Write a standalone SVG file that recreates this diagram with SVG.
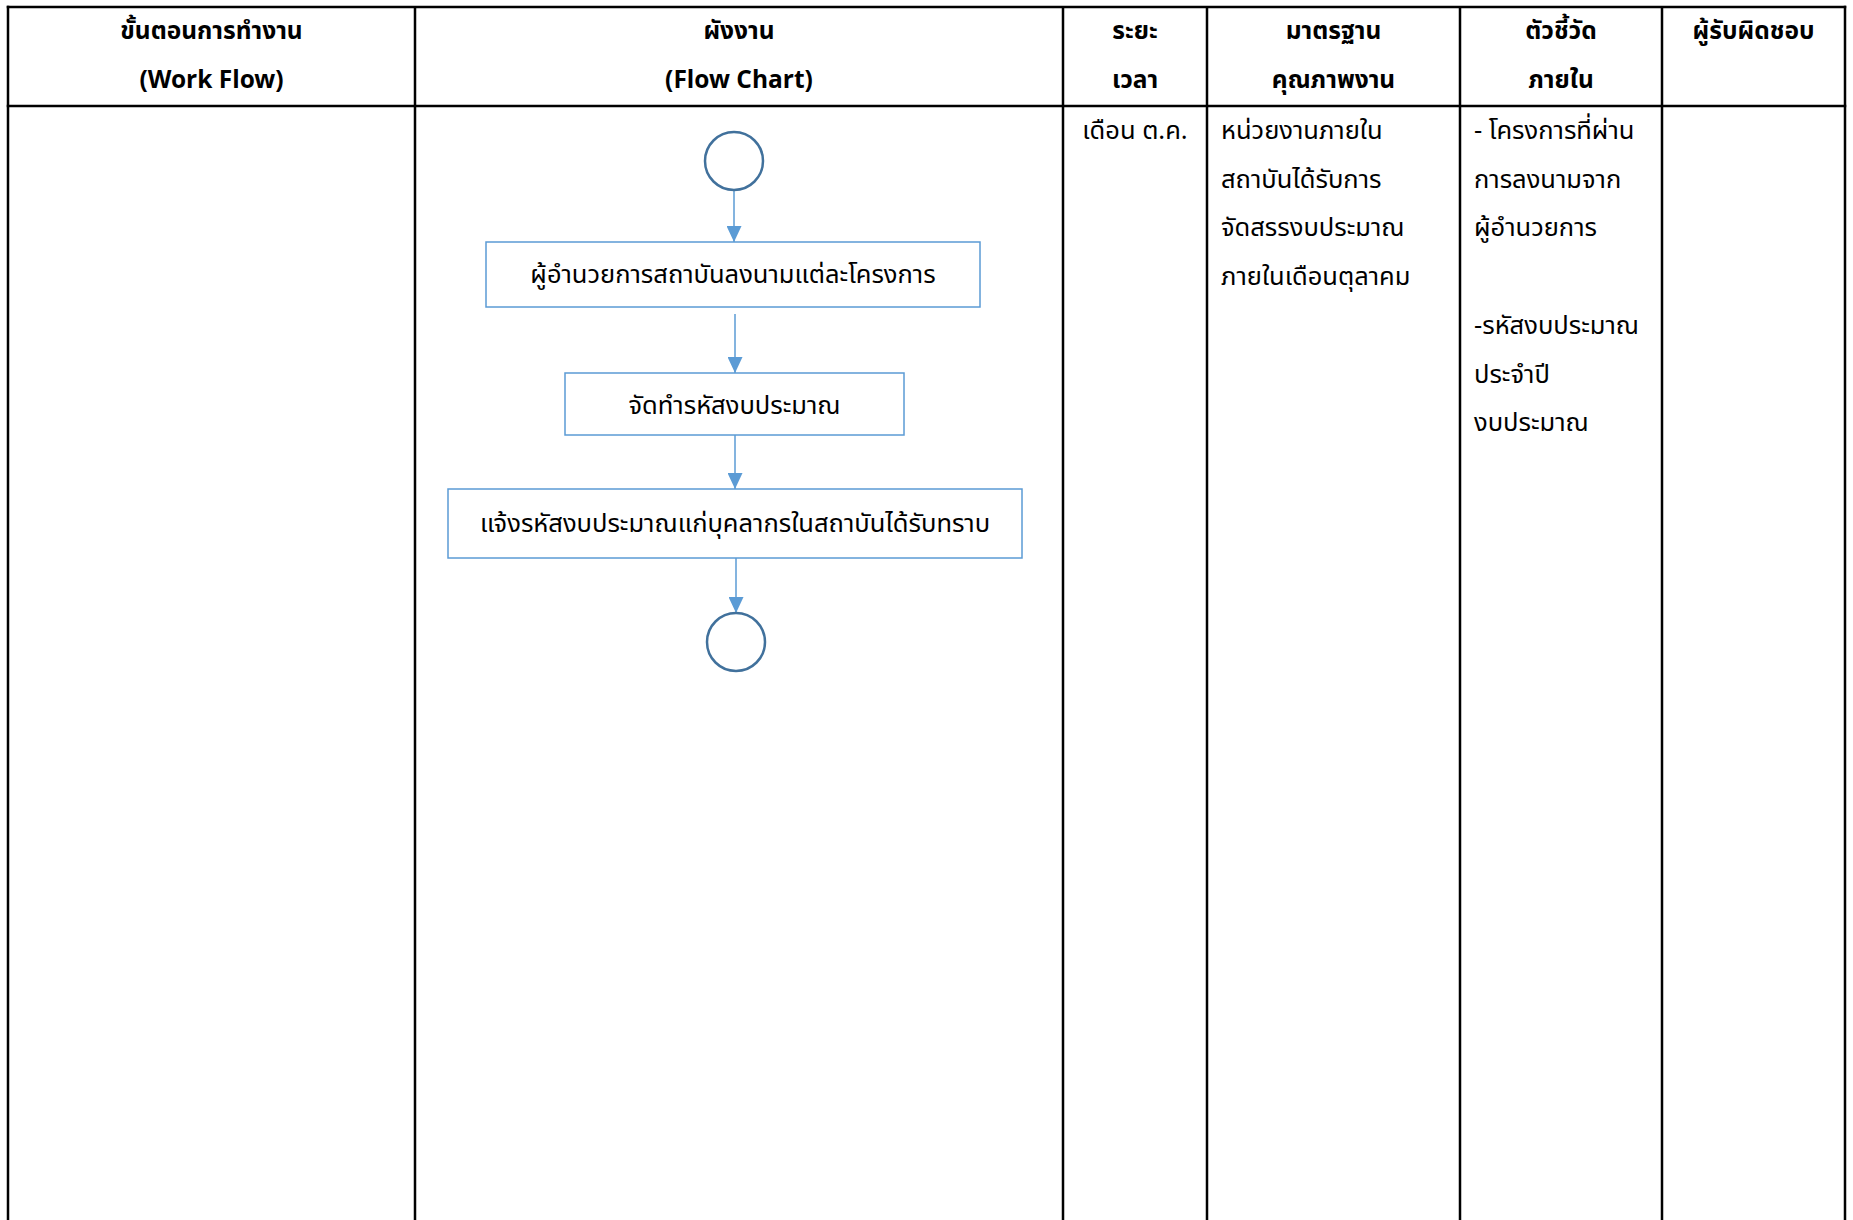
<svg xmlns="http://www.w3.org/2000/svg" width="1853" height="1220" viewBox="0 0 1853 1220">
<style>
.grid{stroke:#000;stroke-width:2.5;fill:none}
.h{font-family:'Noto Sans Thai','Noto Sans','DejaVu Sans',sans-serif;font-size:24.5px;font-weight:bold;text-anchor:middle;fill:#000}
.t{font-family:'Noto Sans Thai','Noto Sans','DejaVu Sans',sans-serif;font-size:25.5px;fill:#000}
.c{text-anchor:middle}
.box{fill:#fff;stroke:#5B9BD5;stroke-width:1.5}
.circ{fill:#fff;stroke:#41719C;stroke-width:2.5}
.conn{stroke:#5B9BD5;stroke-width:1.5;fill:none}
</style>
<defs>
<marker id="arr" markerUnits="userSpaceOnUse" markerWidth="16" markerHeight="15" viewBox="0 0 16 15" refX="16" refY="7.5" orient="auto">
<path d="M0,0 L16,7.5 L0,15 z" fill="#5B9BD5"/>
</marker>
</defs>
<rect width="1853" height="1220" fill="#fff"/>
<g id="table">
<line class="grid" x1="6.75" y1="7" x2="1846.25" y2="7"/>
<line class="grid" x1="6.75" y1="106" x2="1846.25" y2="106"/>
<line class="grid" x1="8" y1="5.75" x2="8" y2="1220"/>
<line class="grid" x1="415" y1="7" x2="415" y2="1220"/>
<line class="grid" x1="1063" y1="7" x2="1063" y2="1220"/>
<line class="grid" x1="1207" y1="7" x2="1207" y2="1220"/>
<line class="grid" x1="1460" y1="7" x2="1460" y2="1220"/>
<line class="grid" x1="1662" y1="7" x2="1662" y2="1220"/>
<line class="grid" x1="1845" y1="5.75" x2="1845" y2="1220"/>
</g>
<g id="headers">
<text class="h" x="211.5" y="39">ขั้นตอนการทำงาน</text>
<text class="h" x="211.5" y="88">(Work Flow)</text>
<text class="h" x="739" y="39">ผังงาน</text>
<text class="h" x="739" y="88">(Flow Chart)</text>
<text class="h" x="1135" y="39">ระยะ</text>
<text class="h" x="1135" y="88">เวลา</text>
<text class="h" x="1333.5" y="39">มาตรฐาน</text>
<text class="h" x="1333.5" y="88">คุณภาพงาน</text>
<text class="h" x="1561" y="39">ตัวชี้วัด</text>
<text class="h" x="1561" y="88">ภายใน</text>
<text class="h" x="1753.5" y="39">ผู้รับผิดชอบ</text>
</g>
<g id="cells">
<text class="t c" x="1135" y="139">เดือน ต.ค.</text>
<text class="t" x="1221" y="139">หน่วยงานภายใน</text>
<text class="t" x="1221" y="188">สถาบันได้รับการ</text>
<text class="t" x="1221" y="236">จัดสรรงบประมาณ</text>
<text class="t" x="1221" y="285">ภายในเดือนตุลาคม</text>
<text class="t" x="1474" y="139">- โครงการที่ผ่าน</text>
<text class="t" x="1474" y="188">การลงนามจาก</text>
<text class="t" x="1474" y="236">ผู้อำนวยการ</text>
<text class="t" x="1474" y="334">-รหัสงบประมาณ</text>
<text class="t" x="1474" y="383">ประจำปี</text>
<text class="t" x="1474" y="431">งบประมาณ</text>
</g>
<g id="connectors">
<line class="conn" x1="734" y1="190" x2="734" y2="242" marker-end="url(#arr)"/>
<line class="conn" x1="735" y1="314" x2="735" y2="373" marker-end="url(#arr)"/>
<line class="conn" x1="735" y1="435" x2="735" y2="489" marker-end="url(#arr)"/>
<line class="conn" x1="736" y1="558" x2="736" y2="613" marker-end="url(#arr)"/>
</g>
<g id="start"><circle class="circ" cx="734" cy="161" r="29"/></g>
<g id="step1"><rect class="box" x="486" y="242" width="494" height="65"/><text class="t c" x="733" y="283">ผู้อำนวยการสถาบันลงนามแต่ละโครงการ</text></g>
<g id="step2"><rect class="box" x="565" y="373" width="339" height="62"/><text class="t c" x="734.5" y="414">จัดทำรหัสงบประมาณ</text></g>
<g id="step3"><rect class="box" x="448" y="489" width="574" height="69"/><text class="t c" x="735" y="532">แจ้งรหัสงบประมาณแก่บุคลากรในสถาบันได้รับทราบ</text></g>
<g id="end"><circle class="circ" cx="736" cy="642" r="29"/></g>
</svg>
